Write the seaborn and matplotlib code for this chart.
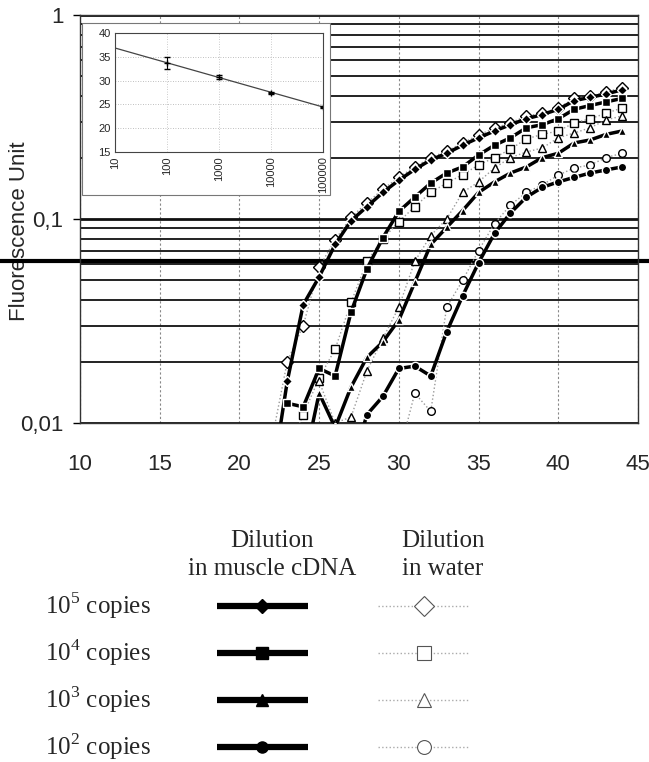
import numpy as np
import pandas as pd
import matplotlib
matplotlib.use("Agg")
import matplotlib.pyplot as plt
import seaborn as sns
from matplotlib.ticker import LogLocator, FixedLocator, NullFormatter, FuncFormatter
from matplotlib.patches import Rectangle

# Cycles (x axis)
cycles = list(range(22, 45))
nan = np.nan

# Dilution in muscle cDNA (filled markers)
muscle_1e5 = [0.005, 0.016, 0.038, 0.052, 0.075, 0.098, 0.115, 0.135, 0.155, 0.175, 0.195, 0.21,
              0.23, 0.25, 0.27, 0.29, 0.31, 0.325, 0.345, 0.38, 0.395, 0.41, 0.43]
muscle_1e4 = [nan, 0.0125, 0.012, 0.0185, 0.017, 0.035, 0.057, 0.081, 0.109, 0.128, 0.15, 0.168,
              0.18, 0.206, 0.23, 0.25, 0.28, 0.29, 0.31, 0.345, 0.36, 0.375, 0.39]
muscle_1e3 = [nan, nan, 0.006, 0.014, 0.0095, 0.015, 0.021, 0.025, 0.032, 0.049, 0.075, 0.091,
              0.11, 0.135, 0.152, 0.168, 0.18, 0.20, 0.21, 0.236, 0.244, 0.26, 0.27]
muscle_1e2 = [nan, nan, nan, nan, nan, 0.006, 0.011, 0.0135, 0.0185, 0.019, 0.017, 0.028,
              0.042, 0.061, 0.085, 0.107, 0.128, 0.143, 0.152, 0.16, 0.168, 0.174, 0.18]

# Dilution in water (open markers)
water_1e5 = [0.008, 0.020, 0.030, 0.058, 0.079, 0.102, 0.12, 0.14, 0.16, 0.18, 0.20, 0.215,
             0.236, 0.258, 0.279, 0.296, 0.32, 0.33, 0.35, 0.39, 0.40, 0.42, 0.44]
water_1e4 = [nan, 0.007, 0.011, 0.0166, 0.023, 0.039, 0.062, 0.08, 0.097, 0.115, 0.135, 0.15,
             0.165, 0.184, 0.20, 0.22, 0.247, 0.26, 0.27, 0.296, 0.31, 0.33, 0.35]
water_1e3 = [nan, nan, nan, 0.016, 0.010, 0.0107, 0.018, 0.026, 0.037, 0.062, 0.083, 0.10,
             0.135, 0.152, 0.178, 0.20, 0.213, 0.223, 0.25, 0.264, 0.28, 0.306, 0.32]
water_1e2 = [nan, nan, nan, nan, nan, nan, nan, nan, 0.007, 0.014, 0.0114, 0.037,
             0.05, 0.07, 0.095, 0.117, 0.135, 0.147, 0.164, 0.178, 0.184, 0.20, 0.21]

threshold = 0.062

# Inset: standard curve (Ct vs copies)
inset_copies = [100, 1000, 10000, 100000]
inset_ct = [33.7, 30.8, 27.4, 24.5]
inset_err = [1.2, 0.4, 0.3, 0.2]

copy_labels = ["10$^5$ copies", "10$^4$ copies", "10$^3$ copies", "10$^2$ copies"]
markers = ["D", "s", "^", "o"]
muscle_series = [muscle_1e5, muscle_1e4, muscle_1e3, muscle_1e2]
water_series = [water_1e5, water_1e4, water_1e3, water_1e2]

sns.set_theme(style="white")
plt.rcParams["font.family"] = ["Liberation Sans Narrow", "Liberation Sans", "DejaVu Sans"]
plt.rcParams["mathtext.fontset"] = "custom"
plt.rcParams["mathtext.rm"] = "Liberation Serif"

W, H = 649, 762
fig = plt.figure(figsize=(W / 100, H / 100), dpi=100)
fig.patch.set_facecolor("white")


def px(x0, y0, x1, y1):
    return [x0 / W, 1 - y1 / H, (x1 - x0) / W, (y1 - y0) / H]


ax = fig.add_axes(px(80, 15, 638, 423))
ax.set_yscale("log")
ax.set_xlim(10, 45)
ax.set_ylim(0.01, 1)

# grid: black lines on the minor log positions, dotted verticals
ax.yaxis.set_minor_locator(LogLocator(base=10, subs=np.arange(2, 10)))
ax.yaxis.set_minor_formatter(NullFormatter())
ax.grid(which="minor", axis="y", color="#111111", lw=1.3, zorder=0)
ax.grid(which="major", axis="y", color="#111111", lw=2.0, zorder=0)
ax.xaxis.set_major_locator(FixedLocator([10, 15, 20, 25, 30, 35, 40, 45]))
ax.grid(which="major", axis="x", color="#888888", lw=0.8, ls=(0, (2, 2)), zorder=0)
ax.set_yticks([0.01, 0.1, 1])
ax.yaxis.set_major_formatter(FuncFormatter(lambda v, p: f"{v:g}".replace(".", ",")))
ax.tick_params(axis="y", which="major", length=5, width=1, color="black", pad=7, labelsize=16,
               left=True)
ax.tick_params(axis="y", which="minor", length=0)
ax.tick_params(axis="x", length=0, pad=22, labelsize=16)
for s in ax.spines.values():
    s.set_color("#333333")
    s.set_linewidth(1.0)

ax.axhline(threshold, xmin=-0.143, xmax=1.02, color="black", lw=3, clip_on=False, zorder=1)

for vals, mk in zip(water_series, markers):
    d = pd.DataFrame({"cycle": cycles, "fu": vals}).dropna()
    sns.lineplot(data=d, x="cycle", y="fu", ax=ax, color="#9a9a9a", lw=1.0, ls=":",
                 marker=mk, markersize=6 if mk != "o" else 5.5, markerfacecolor="white",
                 markeredgecolor="black", markeredgewidth=1.0, zorder=3)
for vals, mk in zip(muscle_series, markers):
    d = pd.DataFrame({"cycle": cycles, "fu": vals}).dropna()
    sns.lineplot(data=d, x="cycle", y="fu", ax=ax, color="black", lw=2.5,
                 marker=mk, markersize=6 if mk != "D" else 5, markerfacecolor="black",
                 markeredgecolor="white", markeredgewidth=1.0, zorder=4)

ax.set_xlabel("")
ax.set_ylabel("Fluorescence Unit", fontsize=16, family=["Liberation Sans", "DejaVu Sans"])
ax.yaxis.set_label_coords(-0.09, 0.47)

# inset frame and standard curve
fig.patches.append(Rectangle((82 / W, 1 - 195 / H), 248 / W, 172 / H, transform=fig.transFigure,
                             facecolor="white", edgecolor="#777777", lw=0.8, zorder=2))
ax_in = fig.add_axes(px(115, 33, 323, 152), zorder=3)
ax_in.set_xscale("log")
ax_in.set_xlim(10, 100000)
ax_in.set_ylim(15, 40)
ax_in.set_yticks([15, 20, 25, 30, 35, 40])
ax_in.set_xticks([10, 100, 1000, 10000, 100000])
ax_in.set_xticklabels(["10", "100", "1000", "10000", "100000"], rotation=90)
ax_in.xaxis.set_minor_locator(FixedLocator([]))
ax_in.tick_params(axis="both", length=0, labelsize=8, pad=3)
ax_in.grid(axis="y", color="#aaaaaa", lw=0.6, ls=(0, (1, 2)))
ax_in.grid(axis="x", color="#bbbbbb", lw=0.6, ls=(0, (1, 2)))
for s in ax_in.spines.values():
    s.set_color("#444444")
    s.set_linewidth(0.8)
sns.regplot(x=np.array(inset_copies), y=np.array(inset_ct), logx=True, ci=None, scatter=False,
            truncate=False, ax=ax_in, line_kws=dict(color="#444444", lw=0.9))
ax_in.errorbar(inset_copies, inset_ct, yerr=inset_err, fmt="+", color="black", ms=5,
               capsize=2, elinewidth=0.8, mew=1)
ax_in.set_xlim(10, 100000)

# legend drawn as a small table under the chart
lax = fig.add_axes([0, 0, 1, 1], zorder=-1)
lax.set_xlim(0, W)
lax.set_ylim(H, 0)
lax.axis("off")
serif = ["Liberation Serif", "DejaVu Serif"]
lax.text(272, 541, "Dilution", ha="center", va="center", fontsize=18, family=serif)
lax.text(272, 569, "in muscle cDNA", ha="center", va="center", fontsize=18, family=serif)
lax.text(443, 541, "Dilution", ha="center", va="center", fontsize=18, family=serif)
lax.text(443, 569, "in water", ha="center", va="center", fontsize=18, family=serif)
row_y = [606, 653, 700, 747]
for yy, lab, mk in zip(row_y, copy_labels, markers):
    lax.text(45, yy, lab, ha="left", va="center", fontsize=18, family=serif)
    lax.plot([217, 308], [yy, yy], color="black", lw=4.5, solid_capstyle="butt")
    lax.plot([262], [yy], marker=mk, color="black", ms=8 if mk != "D" else 7)
    lax.plot([378, 470], [yy, yy], color="#aaaaaa", lw=1.0, ls=":")
    lax.plot([424], [yy], marker=mk, color="#555555", mfc="white", ms=10, mew=0.8)

fig.savefig("out.png", dpi=100, facecolor="white")
